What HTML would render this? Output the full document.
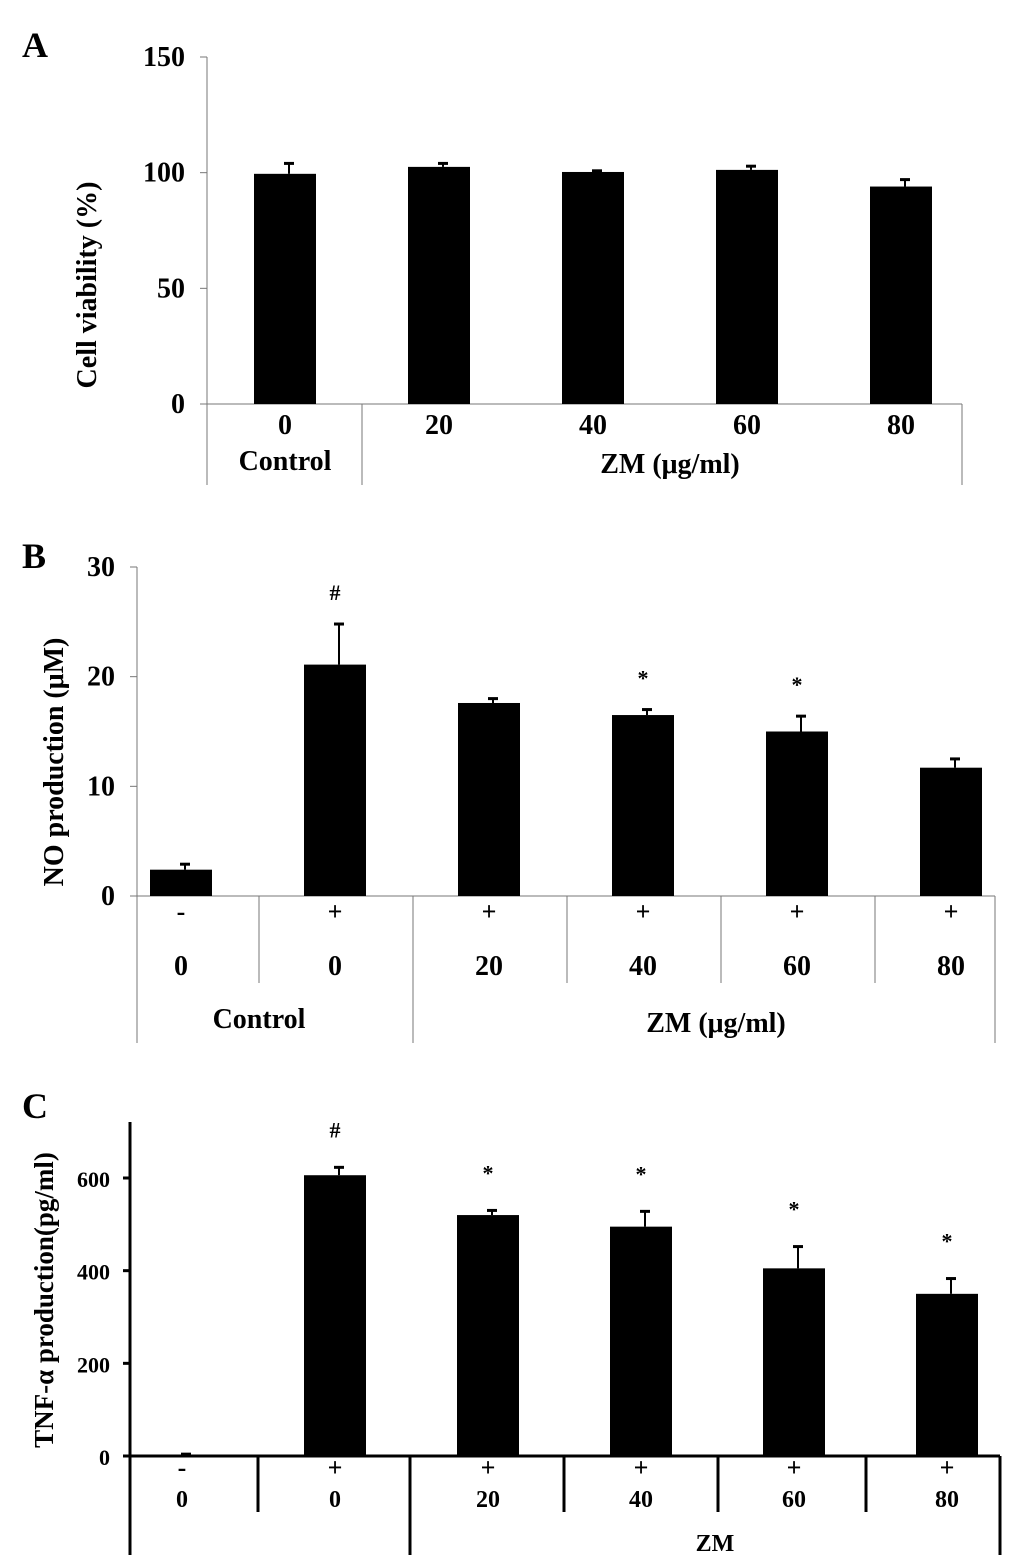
<!DOCTYPE html>
<html><head><meta charset="utf-8"><style>
html,body{margin:0;padding:0;background:#fff}
svg{display:block}
text{font-family:"Liberation Serif",serif;font-weight:bold;fill:#000}
</style></head><body>
<svg id="fig" width="1033" height="1558" viewBox="0 0 1033 1558" xmlns="http://www.w3.org/2000/svg"></svg>
<script>
// Panel A data
const aCats = ["0","20","40","60","80"];
const aVals = [99.5, 102.5, 100.3, 101.2, 94];
const aErr = [4.5, 1.5, 0.5, 1.6, 3];
const aTicks = [0, 50, 100, 150];
// Panel B data
const bSign = ["-","+","+","+","+","+"];
const bCats = ["0","0","20","40","60","80"];
const bVals = [2.4, 21.1, 17.6, 16.5, 15.0, 11.7];
const bErr = [0.5, 3.7, 0.4, 0.5, 1.4, 0.8];
const bMarks = ["", "#", "", "*", "*", ""];
const bTicks = [0, 10, 20, 30];
// Panel C data
const cSign = ["-","+","+","+","+","+"];
const cCats = ["0","0","20","40","60","80"];
const cVals = [2, 606, 520, 495, 405, 350];
const cErr = [2, 17, 10, 33, 47, 33];
const cMarks = ["", "#", "*", "*", "*", "*"];
const cTicks = [0, 200, 400, 600];

const svg = document.getElementById('fig');
const NS = "http://www.w3.org/2000/svg";
function el(tag, attrs, txt){const e=document.createElementNS(NS,tag);for(const k in attrs)e.setAttribute(k,attrs[k]);if(txt!==undefined)e.textContent=txt;svg.appendChild(e);return e;}
function line(x1,y1,x2,y2,w,c){return el('line',{x1,y1,x2,y2,stroke:c||'#000','stroke-width':w||1});}
function txt(x,y,s,size,anchor,name){const t=el('text',{x,y,'font-size':size,'text-anchor':anchor||'middle'},s);

return t;}

function panel(o){
  const ys = v => o.y0 - (v - 0) * (o.y0 - o.yTop) / o.vmax;
  const ax=line(o.ax, o.axTop, o.ax, o.axBottom, o.aw, o.ac);
  
  
  const xa=line(o.ax, o.y0, o.xEnd, o.y0, o.aw, o.ac);
  
  
  o.ticks.forEach(t=>{
    line(o.ax-7, ys(t), o.ax, ys(t), o.aw, o.ac);
    txt(o.ax-(o.tickGap||22), ys(t)+9, String(t), o.tickSize, 'end', o.id+'-y-tick-'+t);
  });
  o.vals.forEach((v,i)=>{
    const cx = o.c0 + i*o.step;
    const r = el('rect',{x:cx-o.bw/2, y:ys(v), width:o.bw, height:o.y0-ys(v), fill:'#000'});
    
    
    const top = ys(v+o.err[i]);
    line(cx+4, ys(v), cx+4, top, 2);
    line(cx-1, top, cx+9, top, 3);
    if(o.marks && o.marks[i]) txt(cx, top-(o.markOff||14), o.marks[i], 22, 'middle', o.id+'-sig-'+i);
    if(o.signs) txt(cx, o.signY, o.signs[i], 26, 'middle', o.id+'-sign-'+i);
    txt(cx, o.catY, o.cats[i], o.catSize||28, 'middle', o.id+'-cat-'+i);
  });
}

// Panel A
txt(22,57,"A",36,'start','panel-a-label');
panel({id:'a', ax:207, axTop:57, axBottom:485, y0:404, yTop:57, vmax:150, xEnd:962, aw:1, ac:'#777',
  ticks:aTicks, tickSize:28, vals:aVals, err:aErr, cats:aCats, c0:285, step:154, bw:62, catY:434});
line(362,404,362,485,1,'#777'); line(962,404,962,485,1,'#777');
txt(285,470,"Control",28,'middle','a-control-label');
txt(670,473,"ZM (μg/ml)",28,'middle','a-zm-label');
(function(){const t=txt(0,0,"Cell viability (%)",28,'middle','a-y-axis-title');t.setAttribute('transform','translate(96,285) rotate(-90)');})();

// Panel B
txt(22,568,"B",36,'start','panel-b-label');
panel({id:'b', ax:137, axTop:567, axBottom:1043, y0:896, yTop:567, vmax:30, xEnd:995, aw:1, ac:'#777',
  ticks:bTicks, tickSize:28, vals:bVals, err:bErr, marks:bMarks, signs:bSign, cats:bCats, c0:181, step:154, bw:62, signY:920, catY:975, markOff:24});
[259,567,721,875].forEach(x=>line(x,896,x,983,1,'#777'));
[413,995].forEach(x=>line(x,896,x,1043,1,'#777'));
txt(259,1028,"Control",28,'middle','b-control-label');
txt(716,1032,"ZM (μg/ml)",28,'middle','b-zm-label');
(function(){const t=txt(0,0,"NO production (μM)",28,'middle','b-y-axis-title');t.setAttribute('transform','translate(63,762) rotate(-90)');})();

// Panel C
txt(22,1118,"C",36,'start','panel-c-label');
panel({id:'c', ax:130, axTop:1122, axBottom:1555, y0:1456, yTop:1178, vmax:600, xEnd:1000, aw:3, ac:'#000',
  ticks:cTicks, tickSize:22, tickGap:20, vals:cVals, err:cErr, marks:cMarks, signs:cSign, cats:cCats, c0:182, step:153, bw:62, signY:1476, catY:1507, catSize:24, markOff:30});
[258,564,718,866].forEach(x=>line(x,1456,x,1512,3));
[410,1000].forEach(x=>line(x,1456,x,1555,3));
txt(715,1551,"ZM",24,'middle','c-zm-label');
(function(){const t=txt(0,0,"TNF-α production(pg/ml)",27,'middle','c-y-axis-title');t.setAttribute('transform','translate(53,1300) rotate(-90)');})();
</script>
</body></html>
